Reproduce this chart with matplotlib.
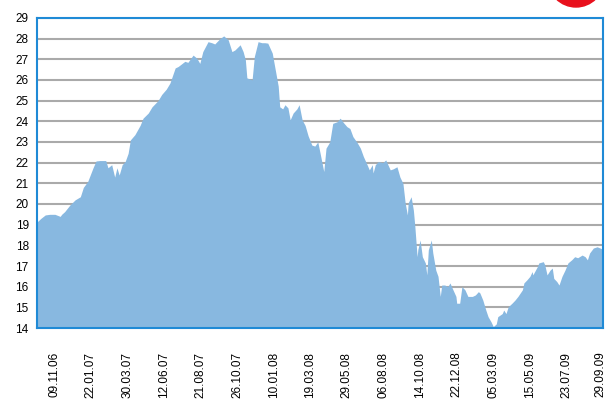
import matplotlib
matplotlib.use("Agg")
from matplotlib import pyplot as plt
from matplotlib.patches import Ellipse
from matplotlib.transforms import ScaledTranslation

# trading-day index of each sample and the value
DAYS = [0, 5, 11, 17, 24, 31, 33, 37, 44, 51, 58, 62, 68, 75, 79, 84, 92, 95, 100, 104,
        107, 110, 114, 118, 122, 125, 131, 138, 142, 149, 154, 162, 167, 173, 178, 185, 189,
        198, 202, 209, 214, 218, 222, 229, 234, 238, 245, 250, 256, 261, 265, 272, 276, 279,
        281, 288, 291, 295, 296, 301, 305, 309, 315, 319, 323, 325, 329, 332, 336, 339, 343,
        348, 351, 355, 359, 363, 368, 372, 376, 379, 384, 387, 392, 396, 402, 406, 410, 415,
        419, 423, 429, 433, 437, 442, 445, 449, 450, 453, 457, 463, 467, 473, 477, 482, 486,
        490, 493, 496, 497, 501, 504, 506, 509, 510, 513, 516, 520, 522, 524, 528, 530, 534,
        537, 540, 542, 546, 550, 553, 557, 561, 562, 566, 569, 573, 577, 583, 587, 591, 593,
        597, 601, 604, 608, 611, 615, 617, 623, 625, 628, 631, 636, 640, 644, 650, 652, 656,
        660, 663, 664, 670, 672, 678, 680, 683, 687, 690, 692, 696, 699, 703, 707, 711, 716,
        720, 724, 730, 734, 737, 740, 745, 750, 754, 758]
VALUES = [19.13, 19.3, 19.47, 19.5, 19.5, 19.4, 19.5, 19.63, 19.95, 20.2, 20.35, 20.8, 21.1,
          21.75, 22.08, 22.1, 22.1, 21.75, 21.9, 21.3, 21.75, 21.4, 21.9, 22.05, 22.45, 23.1,
          23.35, 23.8, 24.15, 24.4, 24.7, 25.0, 25.3, 25.55, 25.85, 26.58, 26.65, 26.9, 26.85,
          27.2, 27.05, 26.8, 27.37, 27.85, 27.8, 27.74, 28.0, 28.13, 27.94, 27.37, 27.45, 27.7,
          27.37, 26.97, 26.1, 26.0, 27.13, 27.7, 27.85, 27.8, 27.8, 27.78, 27.3, 26.5, 25.7,
          24.7, 24.6, 24.8, 24.65, 24.07, 24.4, 24.6, 24.8, 24.07, 23.8, 23.3, 22.85, 22.8,
          23.0, 22.47, 21.57, 22.7, 23.0, 23.9, 23.98, 24.15, 23.95, 23.74, 23.65, 23.26,
          22.95, 22.7, 22.3, 21.9, 21.65, 21.9, 21.5, 21.9, 22.05, 22.0, 22.13, 21.65, 21.7,
          21.8, 21.3, 21.0, 20.05, 19.47, 20.05, 20.35, 19.7, 18.9, 17.45, 17.8, 18.26, 17.45,
          17.15, 16.57, 17.78, 18.26, 17.63, 16.8, 16.5, 15.53, 16.08, 16.08, 16.0, 16.18,
          15.85, 15.53, 15.2, 15.2, 16.0, 15.85, 15.53, 15.53, 15.6, 15.76, 15.7, 15.35,
          14.87, 14.55, 14.3, 14.07, 14.2, 14.55, 14.7, 14.87, 14.7, 15.03, 15.2, 15.35, 15.53,
          15.85, 16.18, 16.33, 16.5, 16.73, 16.57, 16.97, 17.15, 17.21, 17.05, 16.57, 16.8,
          16.9, 16.4, 16.25, 16.08, 16.5, 16.8, 17.15, 17.3, 17.45, 17.4, 17.53, 17.45, 17.3,
          17.63, 17.87, 17.93, 17.87, 17.8]

TICK_LABELS = ["09.11.06", "22.01.07", "30.03.07", "12.06.07", "21.08.07", "26.10.07",
               "10.01.08", "19.03.08", "29.05.08", "06.08.08", "14.10.08", "22.12.08",
               "05.03.09", "15.05.09", "23.07.09", "29.09.09"]
FIRST_TICK = 23
TICK_STEP = 49

plt.rcParams['font.family'] = ['Liberation Sans', 'DejaVu Sans']


def main():
    fig = plt.figure(figsize=(6.07, 4.07), dpi=100)
    ax = fig.add_axes([0.061, 0.194, 0.9325, 0.762])

    ax.fill_between(DAYS, VALUES, 14, color="#88b8e0", linewidth=0, zorder=2)

    ax.set_xlim(0, DAYS[-1])
    ax.set_ylim(14, 29)
    ax.set_yticks(range(14, 30))
    ax.set_xticks([FIRST_TICK + TICK_STEP * i for i in range(len(TICK_LABELS))])
    ax.set_xticklabels(TICK_LABELS, rotation=90, fontsize=8.5)
    ax.tick_params(axis='y', labelsize=8.5, length=0, pad=6)
    ax.tick_params(axis='x', length=0, pad=17)

    # last label sits on the right edge, nudge it in a little
    last = ax.get_xticklabels()[-1]
    last.set_transform(last.get_transform() + ScaledTranslation(-2 / 72, 0, fig.dpi_scale_trans))

    ax.yaxis.grid(True, color="#aaaaaa", linewidth=1.5)
    ax.set_axisbelow(True)
    for s in ax.spines.values():
        s.set_color("#1f8ad6")
        s.set_linewidth(1.5)
        s.set_zorder(3)

    # red logo peeking in at the top
    fig.patches.append(Ellipse((576 / 607, 1 + 21 / 407), 56 / 607, 56 / 407,
                               transform=fig.transFigure, color="#e8101c", zorder=5))

    fig.savefig("out.png", dpi=100)


if __name__ == '__main__':
    main()
